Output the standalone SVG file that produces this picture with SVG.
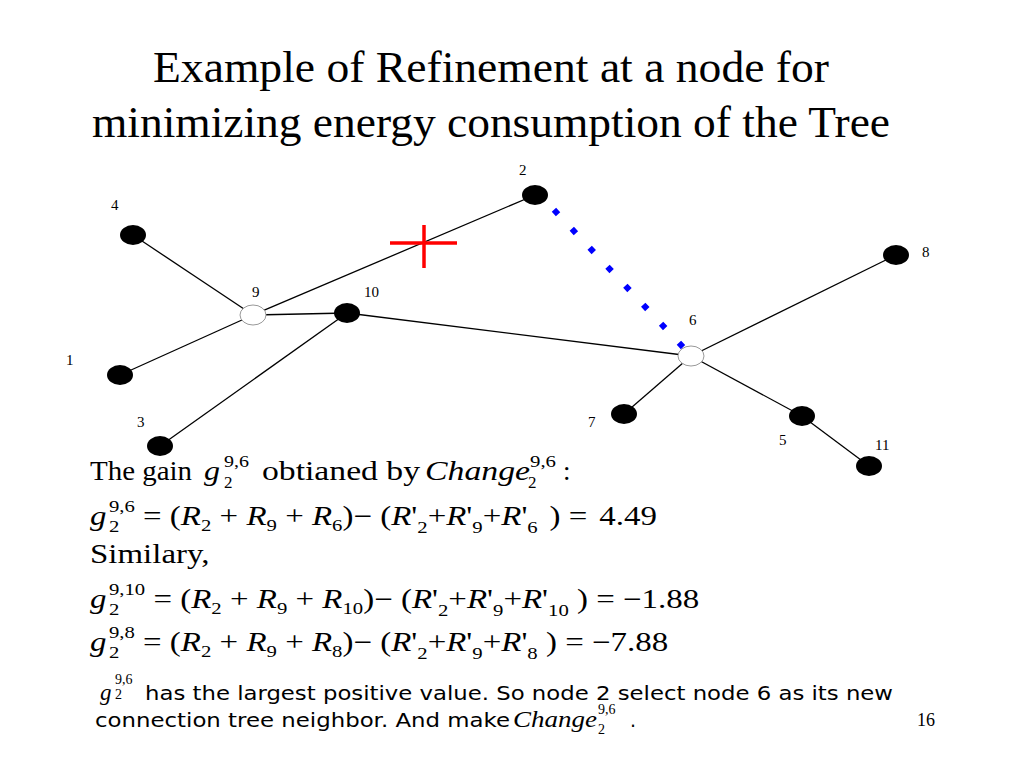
<svg xmlns="http://www.w3.org/2000/svg" width="1024" height="768" viewBox="0 0 1024 768">
<style>
.bg{fill:#fff}
.title{font-family:"Liberation Serif",serif;font-size:45px;fill:#000}
.lbl{font-family:"Liberation Serif",serif;font-size:15px;fill:#000}
.edge{stroke:#000;stroke-width:1.3;fill:none}
.full{fill:#000}
.open{fill:#fff;stroke:#999;stroke-width:1}
.m{font-family:"Liberation Serif",serif;font-size:27px;fill:#000}
.i{font-style:italic}
.s{font-size:17px}
.sans{font-family:"DejaVu Sans","Liberation Sans",sans-serif;font-size:19px;fill:#000}
.ser{font-family:"Liberation Serif",serif;fill:#000}
</style>
<rect class="bg" x="0" y="0" width="1024" height="768"/>
<g id="title">
<text class="title" x="491" y="82" text-anchor="middle" textLength="676" lengthAdjust="spacingAndGlyphs">Example of Refinement at a node for</text>
<text class="title" x="491" y="137" text-anchor="middle" textLength="798" lengthAdjust="spacingAndGlyphs">minimizing energy consumption of the Tree</text>
</g>
<g id="connectors">
<line class="edge" x1="133" y1="235" x2="253" y2="315"/>
<line class="edge" x1="120" y1="375" x2="253" y2="315"/>
<line class="edge" x1="253" y1="315" x2="535" y2="195"/>
<line class="edge" x1="253" y1="315" x2="347" y2="313"/>
<line class="edge" x1="347" y1="313" x2="160" y2="446"/>
<line class="edge" x1="347" y1="313" x2="691" y2="356"/>
<line class="edge" x1="691" y1="356" x2="896" y2="255"/>
<line class="edge" x1="691" y1="356" x2="624" y2="414"/>
<line class="edge" x1="691" y1="356" x2="802" y2="416"/>
<line class="edge" x1="802" y1="416" x2="869" y2="466"/>
<line id="new-link" x1="553.95" y1="209.81" x2="683.05" y2="347.19" stroke="#0000ff" stroke-width="6" stroke-dasharray="6 20.07"/>
<g id="cut" stroke="#ff0000" stroke-width="3.5">
<line x1="390" y1="243" x2="457" y2="243"/>
<line x1="424" y1="225" x2="424" y2="268"/>
</g>
</g>
<g id="node-4"><ellipse class="full" cx="133" cy="235" rx="13" ry="10"/><text class="lbl" x="111" y="210">4</text></g>
<g id="node-2"><ellipse class="full" cx="535" cy="195" rx="13" ry="10"/><text class="lbl" x="519" y="175">2</text></g>
<g id="node-9"><ellipse class="open" cx="253" cy="315" rx="13" ry="10"/><text class="lbl" x="252" y="297">9</text></g>
<g id="node-10"><ellipse class="full" cx="347" cy="313" rx="13" ry="10"/><text class="lbl" x="364" y="297">10</text></g>
<g id="node-1"><ellipse class="full" cx="120" cy="375" rx="13" ry="10"/><text class="lbl" x="66" y="365">1</text></g>
<g id="node-3"><ellipse class="full" cx="160" cy="446" rx="13" ry="10"/><text class="lbl" x="137" y="427">3</text></g>
<g id="node-8"><ellipse class="full" cx="896" cy="255" rx="13" ry="10"/><text class="lbl" x="922" y="257">8</text></g>
<g id="node-6"><ellipse class="open" cx="691" cy="356" rx="13" ry="10"/><text class="lbl" x="689" y="325">6</text></g>
<g id="node-7"><ellipse class="full" cx="624" cy="414" rx="13" ry="10"/><text class="lbl" x="588" y="427">7</text></g>
<g id="node-5"><ellipse class="full" cx="802" cy="416" rx="13" ry="10"/><text class="lbl" x="779" y="445">5</text></g>
<g id="node-11"><ellipse class="full" cx="869" cy="466" rx="13" ry="10"/><text class="lbl" x="875" y="450">11</text></g>
<g id="gain-line">
<text class="m" x="90" y="480" textLength="102" lengthAdjust="spacingAndGlyphs">The gain</text>
<text class="m i" x="204" y="480" textLength="16" lengthAdjust="spacingAndGlyphs">g</text>
<text class="m s" x="224" y="467" textLength="25" lengthAdjust="spacingAndGlyphs">9,6</text>
<text class="m s" x="224" y="488">2</text>
<text class="m" x="262" y="480" textLength="158" lengthAdjust="spacingAndGlyphs">obtianed by</text>
<text class="m i" x="425" y="480" textLength="105" lengthAdjust="spacingAndGlyphs">Change</text>
<text class="m s" x="530" y="467" textLength="26" lengthAdjust="spacingAndGlyphs">9,6</text>
<text class="m s" x="528" y="488">2</text>
<text class="m" x="563" y="480">:</text>
</g>
<g id="equations" transform="translate(90,0) scale(1.22,1)">
<text class="m" x="0" y="525"><tspan class="i">g</tspan><tspan class="s" dx="2" dy="-13">9,6</tspan><tspan class="s" dx="-21.25" dy="20">2</tspan><tspan dx="12.75" dy="-7"> = (</tspan><tspan class="i">R</tspan><tspan class="s" dy="6">2</tspan><tspan dy="-6"> + </tspan><tspan class="i">R</tspan><tspan class="s" dy="6">9</tspan><tspan dy="-6"> + </tspan><tspan class="i">R</tspan><tspan class="s" dy="6">6</tspan><tspan dy="-6">)− (</tspan><tspan class="i">R</tspan>'<tspan class="s" dy="8">2</tspan><tspan dy="-8">+</tspan><tspan class="i">R</tspan>'<tspan class="s" dy="8">9</tspan><tspan dy="-8">+</tspan><tspan class="i">R</tspan>'<tspan class="s" dy="8">6</tspan><tspan dx="3" dy="-8"> ) = </tspan><tspan dx="3">4.49</tspan></text>
<text class="m" x="0" y="563">Similary,</text>
<text class="m" x="0" y="608"><tspan class="i">g</tspan><tspan class="s" dx="2" dy="-13">9,10</tspan><tspan class="s" dx="-29.75" dy="20">2</tspan><tspan dx="21.25" dy="-7"> = (</tspan><tspan class="i">R</tspan><tspan class="s" dy="6">2</tspan><tspan dy="-6"> + </tspan><tspan class="i">R</tspan><tspan class="s" dy="6">9</tspan><tspan dy="-6"> + </tspan><tspan class="i">R</tspan><tspan class="s" dy="6">10</tspan><tspan dy="-6">)− (</tspan><tspan class="i">R</tspan>'<tspan class="s" dy="8">2</tspan><tspan dy="-8">+</tspan><tspan class="i">R</tspan>'<tspan class="s" dy="8">9</tspan><tspan dy="-8">+</tspan><tspan class="i">R</tspan>'<tspan class="s" dy="8">10</tspan><tspan dy="-8"> ) = −1.88</tspan></text>
<text class="m" x="0" y="651"><tspan class="i">g</tspan><tspan class="s" dx="2" dy="-13">9,8</tspan><tspan class="s" dx="-21.25" dy="20">2</tspan><tspan dx="12.75" dy="-7"> = (</tspan><tspan class="i">R</tspan><tspan class="s" dy="6">2</tspan><tspan dy="-6"> + </tspan><tspan class="i">R</tspan><tspan class="s" dy="6">9</tspan><tspan dy="-6"> + </tspan><tspan class="i">R</tspan><tspan class="s" dy="6">8</tspan><tspan dy="-6">)− (</tspan><tspan class="i">R</tspan>'<tspan class="s" dy="8">2</tspan><tspan dy="-8">+</tspan><tspan class="i">R</tspan>'<tspan class="s" dy="8">9</tspan><tspan dy="-8">+</tspan><tspan class="i">R</tspan>'<tspan class="s" dy="8">8</tspan><tspan dy="-8"> ) = −7.88</tspan></text>
</g>
<g id="conclusion">
<text class="ser i" x="100" y="700" font-size="23">g</text>
<text class="ser" x="115" y="684" font-size="14">9,6</text>
<text class="ser" x="115" y="699" font-size="14">2</text>
<text class="sans" x="145" y="700" textLength="748" lengthAdjust="spacingAndGlyphs">has the largest positive value. So node 2 select node 6 as its new</text>
<text class="sans" x="95" y="727" textLength="415" lengthAdjust="spacingAndGlyphs">connection tree neighbor. And make</text>
<text class="ser i" x="513" y="727" font-size="24" textLength="84" lengthAdjust="spacingAndGlyphs">Change</text>
<text class="ser" x="598" y="714" font-size="14">9,6</text>
<text class="ser" x="598" y="734" font-size="14">2</text>
<text class="sans" x="630" y="727">.</text>
<text class="ser" x="917" y="726" font-size="18" textLength="18" lengthAdjust="spacingAndGlyphs">16</text>
</g>
</svg>
